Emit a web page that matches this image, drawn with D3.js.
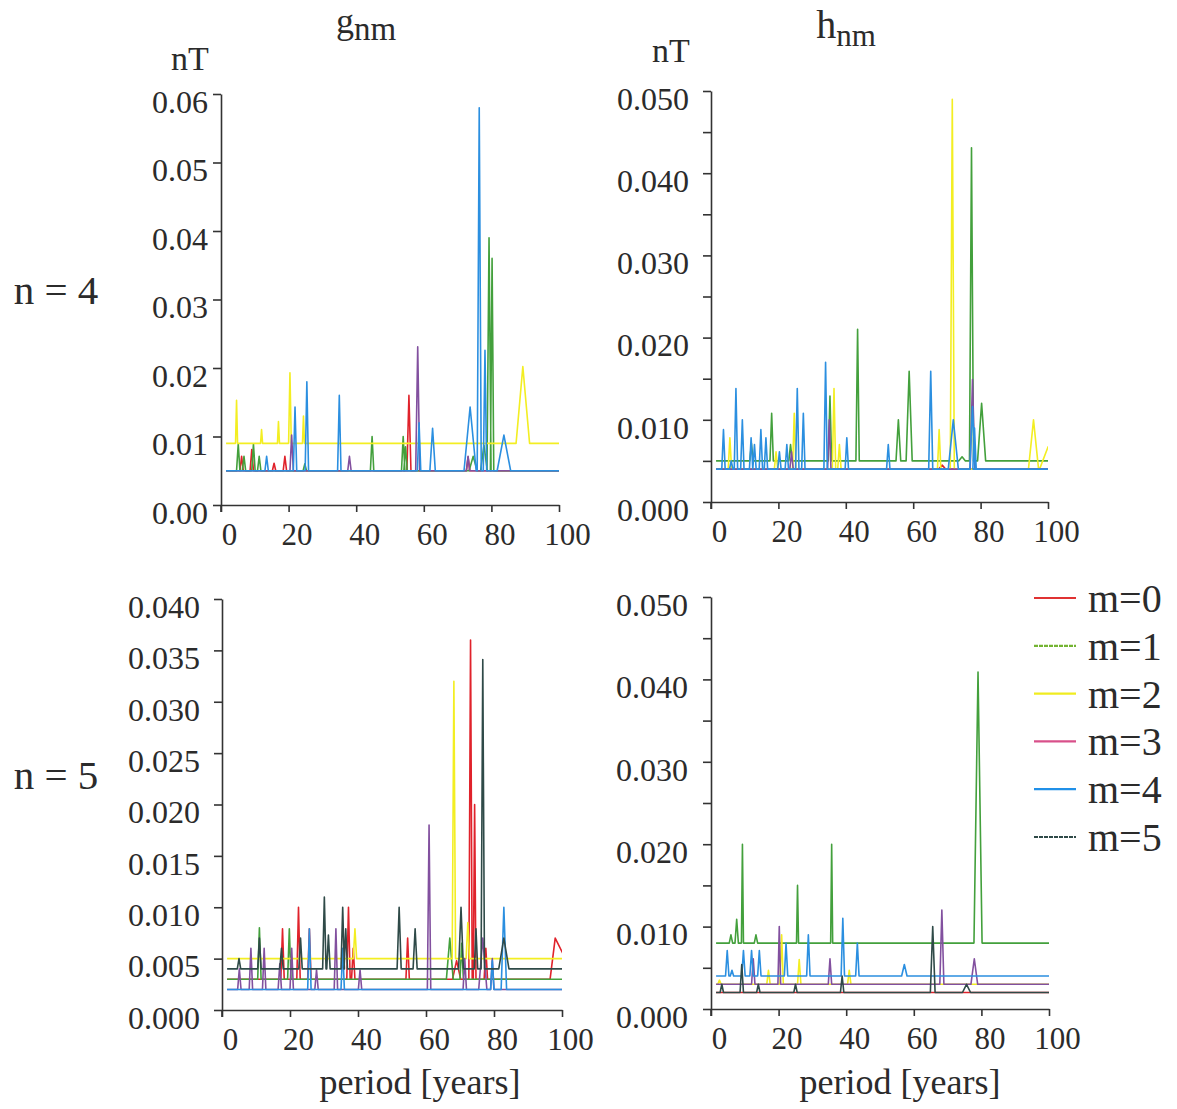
<!DOCTYPE html>
<html>
<head>
<meta charset="utf-8">
<script src="https://cdn.jsdelivr.net/npm/d3@7"></script>
<style>
body { margin: 0; background: #fff; }
text { font-family: "Liberation Serif", "Times New Roman", serif; fill: #2b2b2b; }
.axis path, .axis line { stroke: #333; stroke-width: 1.6; }
</style>
</head>
<body>
<svg id="chart" width="1177" height="1109"></svg>
<script>
// tick labels and series names
var periodTicks = [0, 20, 40, 60, 80, 100];
var mLabels = ["m=0", "m=1", "m=2", "m=3", "m=4", "m=5"];
var lineColors = ["#e0222b", "#43a03c", "#f3ee22", "#82509f", "#2b8fe0", "#2f4a48"];
var legendColors = ["#e03232", "#74b432", "#f0ec20", "#d8508a", "#2090e8", "#2f4a48"];

// spectrum start / end (years)
var periodRange = [1.5, 100];

// baseline amplitude (nT) of each m, per panel
var g4Base = [0.005, 0.005, 0.009, 0.005, 0.005];
var h4Base = [0.004, 0.005, 0.004, 0.004, 0.004];
var g5Base = [0.003, 0.003, 0.005, 0.002, 0.002, 0.004];
var h5Base = [0.002, 0.008, 0.003, 0.003, 0.004, 0.002];

// peaks: [period, amplitude, half width left, half width right]
// g, n = 4
var g4m0 = [[6.1, 0.0071], [9.1, 0.0081], [15.7, 0.0061], [18.9, 0.0071], [55.6, 0.016, 0.6], [73.1, 0.007]];
var g4m1 = [[5.1, 0.0089], [6.8, 0.0071], [9.6, 0.0089], [11.3, 0.0071], [24.8, 0.006], [44.7, 0.010],
            [53.9, 0.010], [54.6, 0.0085], [74.6, 0.0071, 1.2], [77.8, 0.0087, 1], [79.3, 0.039, 0.6], [80.2, 0.036, 0.5]];
var g4m2 = [[4.6, 0.0153, 0.3], [12.0, 0.011, 0.3], [17.0, 0.0122, 0.3], [20.4, 0.0193, 0.4], [24.4, 0.013, 0.3], [89.3, 0.0202, 2]];
var g4m3 = [[20.9, 0.0102], [38.0, 0.0071], [58.2, 0.0231, 0.6], [73.1, 0.0071]];
var g4m4 = [[13.5, 0.0071], [21.9, 0.0143], [25.4, 0.018], [35.0, 0.016], [58.6, 0.012], [62.6, 0.0112, 0.8],
            [73.7, 0.0143, 1.8], [76.4, 0.058, 0.6], [78.1, 0.0226, 0.5], [83.7, 0.0102, 2]];

// h, n = 4
var h4m0 = [[68.6, 0.0045, 1]];
var h4m1 = [[12.0, 0.0071], [18.0, 0.0108], [23.6, 0.007], [35.3, 0.0129], [43.5, 0.021, 0.5], [55.6, 0.010, 0.7],
            [58.8, 0.0159, 0.9], [74.5, 0.0055, 1], [77.3, 0.0431, 0.6], [80.3, 0.012, 1.2]];
var h4m2 = [[5.6, 0.0078], [19.3, 0.0061], [24.7, 0.0108], [36.5, 0.0138], [38.1, 0.007], [67.7, 0.0088],
            [71.6, 0.049, 0.6], [95.7, 0.010, 1.5], [100, 0.0067, 2.5]];
var h4m3 = [[23.9, 0.0061], [35.1, 0.010], [77.6, 0.0149, 0.7]];
var h4m4 = [[3.7, 0.0088], [6.0, 0.005], [7.4, 0.0138], [9.3, 0.010], [11.9, 0.0078], [12.9, 0.007], [14.8, 0.0088],
            [16.3, 0.0078], [20.3, 0.0061], [22.5, 0.007], [25.6, 0.0138], [27.4, 0.0108], [34.0, 0.017], [40.3, 0.0078],
            [52.6, 0.007], [65.2, 0.0159, 0.6], [71.9, 0.010, 1.5], [77.6, 0.0116, 0.8], [78.2, 0.009]];

// g, n = 5
var g5m0 = [[17.8, 0.0079], [22.5, 0.010], [25.7, 0.0079], [37.2, 0.010], [38.6, 0.006], [54.6, 0.007],
            [69.0, 0.0048, 1.2], [73.1, 0.036, 0.5], [74.3, 0.02, 0.4], [77.6, 0.006], [98, 0.007, 1.5, 6]];
var g5m1 = [[11.0, 0.008], [19.8, 0.0079], [67.0, 0.007, 1], [70.5, 0.0065]];
var g5m2 = [[39.1, 0.0079], [68.2, 0.032, 0.5], [72.3, 0.0085, 0.5]];
var g5m3 = [[5.1, 0.004], [8.5, 0.006], [12.4, 0.006], [17.0, 0.0045], [20.5, 0.006], [27.8, 0.0039], [33.5, 0.0079],
            [40.6, 0.0039], [60.9, 0.018, 0.5], [71.4, 0.005], [76.7, 0.007, 1.2], [79.5, 0.005]];
var g5m4 = [[25.7, 0.0079], [35.5, 0.006], [79.5, 0.0048], [82.9, 0.010, 0.8]];
var g5m5 = [[5.0, 0.005], [11.0, 0.007], [17.5, 0.006], [23.1, 0.007], [30.1, 0.011], [31.3, 0.0073], [35.5, 0.010],
            [36.4, 0.0079], [52.1, 0.010, 0.6], [56.8, 0.0079, 0.6], [70.3, 0.010, 0.7], [74.7, 0.0079],
            [76.7, 0.0341, 0.5], [82.9, 0.007, 1.5]];

// h, n = 5
var h5m0 = [];
var h5m1 = [[5.9, 0.009], [7.6, 0.0109], [9.3, 0.020, 0.3], [13.3, 0.009], [25.6, 0.015, 0.3], [35.7, 0.020, 0.3],
            [79.0, 0.0409, 1.2]];
var h5m2 = [[2.5, 0.0035], [17.0, 0.0047], [20.9, 0.009], [26.1, 0.006], [40.9, 0.0047]];
var h5m3 = [[12.5, 0.0061], [20.2, 0.010, 0.4], [35.2, 0.0061], [68.3, 0.012, 0.6], [77.9, 0.0061, 1]];
var h5m4 = [[4.8, 0.0071], [6.2, 0.0047], [9.6, 0.0071], [12.0, 0.0071], [14.3, 0.0071], [22.2, 0.008], [28.8, 0.009],
            [39.0, 0.011], [43.3, 0.008], [57.2, 0.0054, 0.8]];
var h5m5 = [[3.2, 0.003], [9.1, 0.0054], [14.0, 0.003], [25.0, 0.003], [38.8, 0.004], [65.6, 0.010, 0.7], [75.6, 0.003, 1.2]];

var svg = d3.select("#chart");

// panel layout (pixels)
var panels = [
  { id: "g4", x: [221, 559], y: [505, 94],  max: 0.06, step: 0.01, fmt: ".2f", every: 1, pad: 5,
    base: g4Base, peaks: [g4m0, g4m1, g4m2, g4m3, g4m4] },
  { id: "h4", x: [711, 1048], y: [502, 91], max: 0.05, step: 0.005, fmt: ".3f", every: 2, pad: 14,
    base: h4Base, peaks: [h4m0, h4m1, h4m2, h4m3, h4m4] },
  { id: "g5", x: [222, 562], y: [1010, 599], max: 0.04, step: 0.005, fmt: ".3f", every: 1, pad: 14,
    base: g5Base, peaks: [g5m0, g5m1, g5m2, g5m3, g5m4, g5m5] },
  { id: "h5", x: [711, 1049], y: [1009, 597], max: 0.05, step: 0.005, fmt: ".3f", every: 2, pad: 15,
    base: h5Base, peaks: [h5m0, h5m1, h5m2, h5m3, h5m4, h5m5] }
];

// turn baseline + peak list into polyline vertices
function spectrum(base, peaks) {
  var pts = [[periodRange[0], base]];
  peaks.slice().sort(function(a, b) { return a[0] - b[0]; }).forEach(function(p) {
    var wl = p[2] || 0.5, wr = p[3] || wl;
    pts.push([p[0] - wl, base], [p[0], p[1]], [p[0] + wr, base]);
  });
  if (pts[pts.length - 1][0] < periodRange[1]) pts.push([periodRange[1], base]);
  return pts;
}

panels.forEach(function(p) {
  var x = d3.scaleLinear().domain([0, 100]).range(p.x);
  var y = d3.scaleLinear().domain([0, p.max]).range(p.y);
  var g = svg.append("g");

  g.append("clipPath").attr("id", "clip-" + p.id)
    .append("rect")
    .attr("x", p.x[0]).attr("width", p.x[1] - p.x[0])
    .attr("y", p.y[1] - 10).attr("height", p.y[0] - p.y[1] + 10);

  var line = d3.line().x(function(d) { return x(d[0]); }).y(function(d) { return y(d[1]); });
  var plot = g.append("g").attr("clip-path", "url(#clip-" + p.id + ")");
  p.peaks.forEach(function(pk, m) {
    plot.append("path")
      .datum(spectrum(p.base[m], pk))
      .attr("d", line)
      .attr("fill", "none")
      .attr("stroke", lineColors[m])
      .attr("stroke-width", 1.6)
      .attr("stroke-linejoin", "round");
  });

  // y axis
  var yTicks = d3.range(0, p.max + p.step / 2, p.step);
  var yAxis = g.append("g").attr("class", "axis")
    .attr("transform", "translate(" + p.x[0] + ",0)")
    .call(d3.axisLeft(y).tickValues(yTicks).tickSize(8).tickSizeOuter(0).tickPadding(p.pad)
      .tickFormat(function(d, i) { return i % p.every === 0 ? d3.format(p.fmt)(d) : ""; }));
  yAxis.selectAll("text").attr("y", 8).style("font-size", "32px");
  yAxis.append("line").attr("x1", 0).attr("x2", 0).attr("y1", p.y[0]).attr("y2", p.y[0] + 7);

  // x axis
  var xAxis = g.append("g").attr("class", "axis")
    .attr("transform", "translate(0," + p.y[0] + ")")
    .call(d3.axisBottom(x).tickValues(periodTicks).tickSize(7).tickSizeOuter(0));
  xAxis.selectAll("text").attr("x", 8).attr("y", 18).style("font-size", "31px");
});

svg.selectAll(".axis .domain").attr("fill", "none");
svg.selectAll(".axis text").style("fill", "#2b2b2b").style("font-family", "Liberation Serif, serif");

// column titles
function title(cx, cy, main, sub, mainSize, subSize, subDy) {
  var t = svg.append("text").attr("x", cx).attr("y", cy).attr("text-anchor", "middle");
  t.append("tspan").style("font-size", mainSize + "px").text(main);
  t.append("tspan").style("font-size", subSize + "px").attr("dy", subDy).text(sub);
}
title(366, 33, "g", "nm", 36, 33, 7);
title(846, 38, "h", "nm", 40, 31, 8);

svg.append("text").attr("x", 190).attr("y", 70).attr("text-anchor", "middle").style("font-size", "34px").text("nT");
svg.append("text").attr("x", 671).attr("y", 62).attr("text-anchor", "middle").style("font-size", "34px").text("nT");

svg.append("text").attr("x", 56).attr("y", 304).attr("text-anchor", "middle").style("font-size", "41px").text("n = 4");
svg.append("text").attr("x", 56).attr("y", 789).attr("text-anchor", "middle").style("font-size", "41px").text("n = 5");

svg.append("text").attr("x", 420).attr("y", 1094).attr("text-anchor", "middle").style("font-size", "36px").text("period [years]");
svg.append("text").attr("x", 900).attr("y", 1094).attr("text-anchor", "middle").style("font-size", "36px").text("period [years]");

// legend
var legend = svg.append("g");
var legendY = d3.scalePoint().domain(mLabels).range([598, 837]);
mLabels.forEach(function(lbl, i) {
  legend.append("line")
    .attr("x1", 1034).attr("x2", 1076)
    .attr("y1", legendY(lbl)).attr("y2", legendY(lbl))
    .attr("stroke", legendColors[i]).attr("stroke-width", 2.2)
    .attr("stroke-dasharray", (i === 1 || i === 5) ? "4,1" : null);
  legend.append("text")
    .attr("x", 1088).attr("y", legendY(lbl)).attr("dy", "0.35em")
    .style("font-size", "40px").text(lbl);
});
</script>
</body>
</html>
